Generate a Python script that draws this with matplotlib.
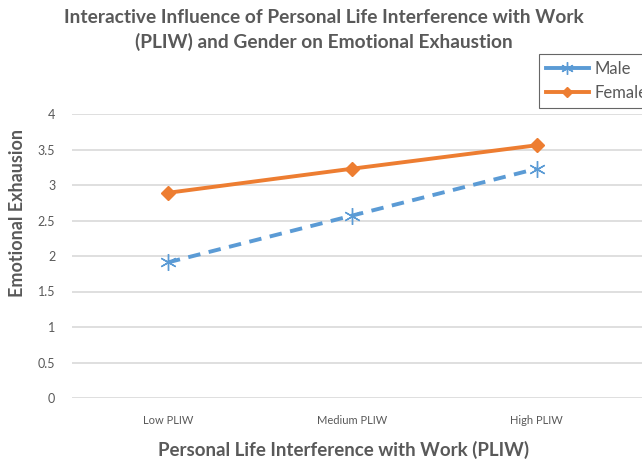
import matplotlib
matplotlib.use('Agg')
import matplotlib.pyplot as plt
from matplotlib.lines import Line2D

# data
categories = ['Low PLIW', 'Medium PLIW', 'High PLIW']
male = [1.91, 2.57, 3.23]
female = [2.89, 3.23, 3.56]
y_ticks = [0, 0.5, 1, 1.5, 2, 2.5, 3, 3.5, 4]
y_tick_labels = ['0', '0.5', '1', '1.5', '2', '2.5', '3', '3.5', '4']

BLUE = '#5B9BD5'
ORANGE = '#ED7D31'
GREY = '#595959'
FONT = 'Lato'

W, H = 642, 462
fig = plt.figure(figsize=(W / 100, H / 100), dpi=100)
ax = fig.add_axes([72 / W, (H - 398) / H, (W - 72) / W, 284 / H])

x = list(range(len(categories)))
ax.plot(x, male, color=BLUE, lw=2.8, ls=(0, (3.2, 2.2)),
        marker=(6, 2, 0), ms=12, mew=1.0, mec=BLUE, zorder=3)
ax.plot(x, female, color=ORANGE, lw=2.8, marker='D', ms=7,
        mfc=ORANGE, mec=ORANGE, zorder=3)

ax.set_xlim(-0.52, 2.57)
ax.set_ylim(0, 4)
ax.set_xticks(x)
ax.set_xticklabels(categories, fontsize=8, color=GREY, family=FONT)
ax.set_yticks(y_ticks)
ax.set_yticklabels(y_tick_labels, fontsize=9, color=GREY, family=FONT)
ax.tick_params(length=0)
ax.tick_params(axis='y', pad=12)
ax.tick_params(axis='x', pad=12)
ax.grid(axis='y', color='#D9D9D9', lw=1.2)
ax.set_axisbelow(True)
for s in ax.spines.values():
    s.set_visible(False)

fig.text(324 / W, 1 - 30 / H,
         'Interactive Influence of Personal Life Interference with Work\n'
         '(PLIW) and Gender on Emotional Exhaustion',
         ha='center', va='center', fontsize=13.8, fontweight='bold',
         color=GREY, family=FONT, linespacing=1.4)
fig.text(18 / W, 1 - 213 / H, 'Emotional Exhausion', rotation=90,
         ha='center', va='center', fontsize=13, fontweight='bold',
         color=GREY, family=FONT)
fig.text(344 / W, 1 - 450 / H, 'Personal Life Interference with Work (PLIW)',
         ha='center', va='center', fontsize=13.5, fontweight='bold',
         color=GREY, family=FONT)

handles = [
    Line2D([], [], color=BLUE, lw=2.8, marker=(6, 2, 0), ms=9, mew=1.0),
    Line2D([], [], color=ORANGE, lw=2.8, marker='D', ms=5),
]
leg = fig.legend(handles, ['Male', 'Female'], loc='upper left',
                 bbox_to_anchor=(539 / W, 1 - 54 / H), borderaxespad=0,
                 frameon=True, fancybox=False, handlelength=2.6,
                 handletextpad=0.35, borderpad=0.4, labelspacing=0.5,
                 prop={'family': FONT, 'size': 12})
leg.get_frame().set_edgecolor('#404040')
leg.get_frame().set_linewidth(0.8)
for t in leg.get_texts():
    t.set_color(GREY)

fig.savefig('out.png', dpi=100)
